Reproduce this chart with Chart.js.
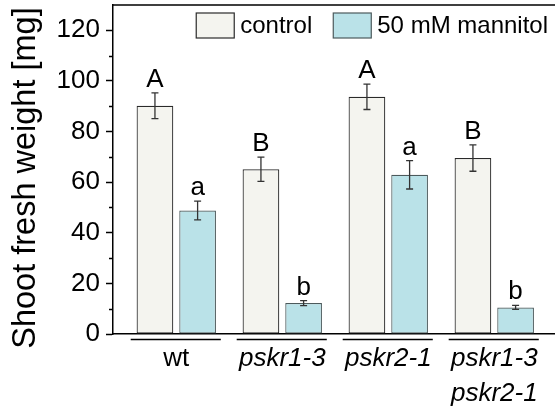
<!DOCTYPE html>
<html>
<head>
<meta charset="utf-8">
<script src="https://cdn.jsdelivr.net/npm/chart.js@4"></script>
<style>
  body { margin: 0; background: #fff; }
  #wrap { width: 555px; height: 412px; }
</style>
</head>
<body>
<div id="wrap"><canvas id="barChart"></canvas></div>
<script>
const FONT = '"Liberation Sans", Arial, Helvetica, sans-serif';

// data
const groupPos = [1, 2, 3, 4];
const groupLabels = ['wt', 'pskr1-3', 'pskr2-1', ['pskr1-3', 'pskr2-1']];
const controlMean = [90.2, 65.1, 93.7, 69.5];
const controlErr = [5.1, 4.8, 5.0, 5.2];
const controlLetters = ['A', 'B', 'A', 'B'];
const mannitolMean = [48.8, 12.2, 62.9, 10.5];
const mannitolErr = [3.7, 1.0, 5.6, 0.8];
const mannitolLetters = ['a', 'b', 'a', 'b'];
const yTicks = [0, 20, 40, 60, 80, 100, 120];
const yMinorTicks = [10, 30, 50, 70, 90, 110];
const yTitle = 'Shoot fresh weight [mg]';

// error bars, letters, legend, group lines, top frame, y title
const extras = {
    id: 'extras',
    afterDatasetsDraw(chart) {
        const { ctx, chartArea: a, scales: { x, y } } = chart;
        ctx.save();

        ctx.strokeStyle = '#000';
        ctx.lineWidth = 1.5;
        ctx.beginPath();
        ctx.moveTo(a.left, a.top);
        ctx.lineTo(a.right, a.top);
        yMinorTicks.forEach(v => {
            const py = Math.round(y.getPixelForValue(v)) + 0.5;
            ctx.moveTo(a.left - 4, py);
            ctx.lineTo(a.left, py);
        });
        ctx.stroke();

        // group underlines
        ctx.beginPath();
        groupPos.forEach(p => {
            ctx.moveTo(x.getPixelForValue(p - 0.43), a.bottom + 5.5);
            ctx.lineTo(x.getPixelForValue(p + 0.42), a.bottom + 5.5);
        });
        ctx.stroke();

        chart.data.datasets.forEach((ds, di) => {
            const meta = chart.getDatasetMeta(di);
            meta.data.forEach((bar, i) => {
                const v = ds.data[i].y;
                const hi = y.getPixelForValue(v + ds.err[i]);
                const lo = y.getPixelForValue(v - ds.err[i]);
                const cx = bar.x;
                ctx.strokeStyle = '#333';
                ctx.lineWidth = 1.3;
                ctx.beginPath();
                ctx.moveTo(cx, hi); ctx.lineTo(cx, lo);
                ctx.moveTo(cx - 3.5, hi); ctx.lineTo(cx + 3.5, hi);
                ctx.moveTo(cx - 3.5, lo); ctx.lineTo(cx + 3.5, lo);
                ctx.stroke();

                ctx.fillStyle = '#000';
                ctx.font = '26px ' + FONT;
                ctx.textAlign = 'center';
                ctx.textBaseline = 'alphabetic';
                ctx.fillText(ds.letters[i], cx, hi - 6);
            });
        });

        // legend
        ctx.font = '24px ' + FONT;
        ctx.textBaseline = 'middle';
        ctx.textAlign = 'left';
        let xr = a.right - 7;
        const items = chart.data.datasets.slice().reverse();
        items.forEach(ds => {
            const tw = ctx.measureText(ds.label).width;
            const tx = xr - tw;
            ctx.fillStyle = '#000';
            ctx.fillText(ds.label, tx, 26);
            const bx = tx - 6 - 38;
            ctx.fillStyle = ds.backgroundColor;
            ctx.fillRect(bx, 13, 38, 25);
            ctx.strokeStyle = ds.borderColor;
            ctx.lineWidth = 1.2;
            ctx.strokeRect(bx, 13, 38, 25);
            xr = bx - 21;
        });

        // y axis title
        ctx.translate(26, 178);
        ctx.rotate(-Math.PI / 2);
        ctx.font = '32.5px ' + FONT;
        ctx.textAlign = 'center';
        ctx.textBaseline = 'middle';
        ctx.fillStyle = '#000';
        ctx.fillText(yTitle, 0, 0);

        ctx.restore();
    }
};

const ctx = document.getElementById('barChart').getContext('2d');
const chart = new Chart(ctx, {
    type: 'bar',
    data: {
        datasets: [{
            label: 'control',
            data: groupPos.map((p, i) => ({ x: p, y: controlMean[i] })),
            err: controlErr,
            letters: controlLetters,
            backgroundColor: '#f4f4ef',
            borderColor: '#2a2a2a',
            borderWidth: 1.2,
            borderSkipped: false
        }, {
            label: '50 mM mannitol',
            data: groupPos.map((p, i) => ({ x: p, y: mannitolMean[i] })),
            err: mannitolErr,
            letters: mannitolLetters,
            backgroundColor: '#bae2e8',
            borderColor: '#4c5a5c',
            borderWidth: 1.2,
            borderSkipped: false
        }]
    },
    options: {
        responsive: true,
        maintainAspectRatio: false,
        animation: false,
        categoryPercentage: 0.805,
        barPercentage: 0.86,
        layout: { padding: { top: 5, left: 0, right: 0, bottom: 0 } },
        plugins: {
            legend: { display: false },
            tooltip: { enabled: false }
        },
        scales: {
            x: {
                type: 'linear',
                offset: false,
                min: 0.403,
                max: 4.573,
                afterBuildTicks(s) { s.ticks = groupPos.map(v => ({ value: v })); },
                ticks: {
                    autoSkip: false,
                    maxRotation: 0,
                    padding: 7.5,
                    color: '#000',
                    callback: (v, i) => groupLabels[i],
                    font: c => ({ family: FONT, size: 26, lineHeight: 1.35, style: c.index === 0 ? 'normal' : 'italic' })
                },
                grid: { display: false, offset: false, drawTicks: false, tickLength: 0 },
                border: { color: '#000', width: 1.5 },
                afterFit(s) { s.height = 78; s.paddingLeft = 0; s.paddingRight = 0; }
            },
            y: {
                min: 0,
                max: 130,
                afterBuildTicks(s) { s.ticks = yTicks.map(v => ({ value: v })); },
                ticks: { padding: 6, color: '#000', font: { family: FONT, size: 26 } },
                grid: { drawOnChartArea: false, tickLength: 7, tickColor: '#000', tickWidth: 1.5 },
                border: { color: '#000', width: 1.5 },
                title: { display: false },
                afterFit(s) { s.width = 113; s.paddingTop = 0; s.paddingBottom = 0; }
            }
        }
    },
    plugins: [extras]
});
</script>
</body>
</html>
